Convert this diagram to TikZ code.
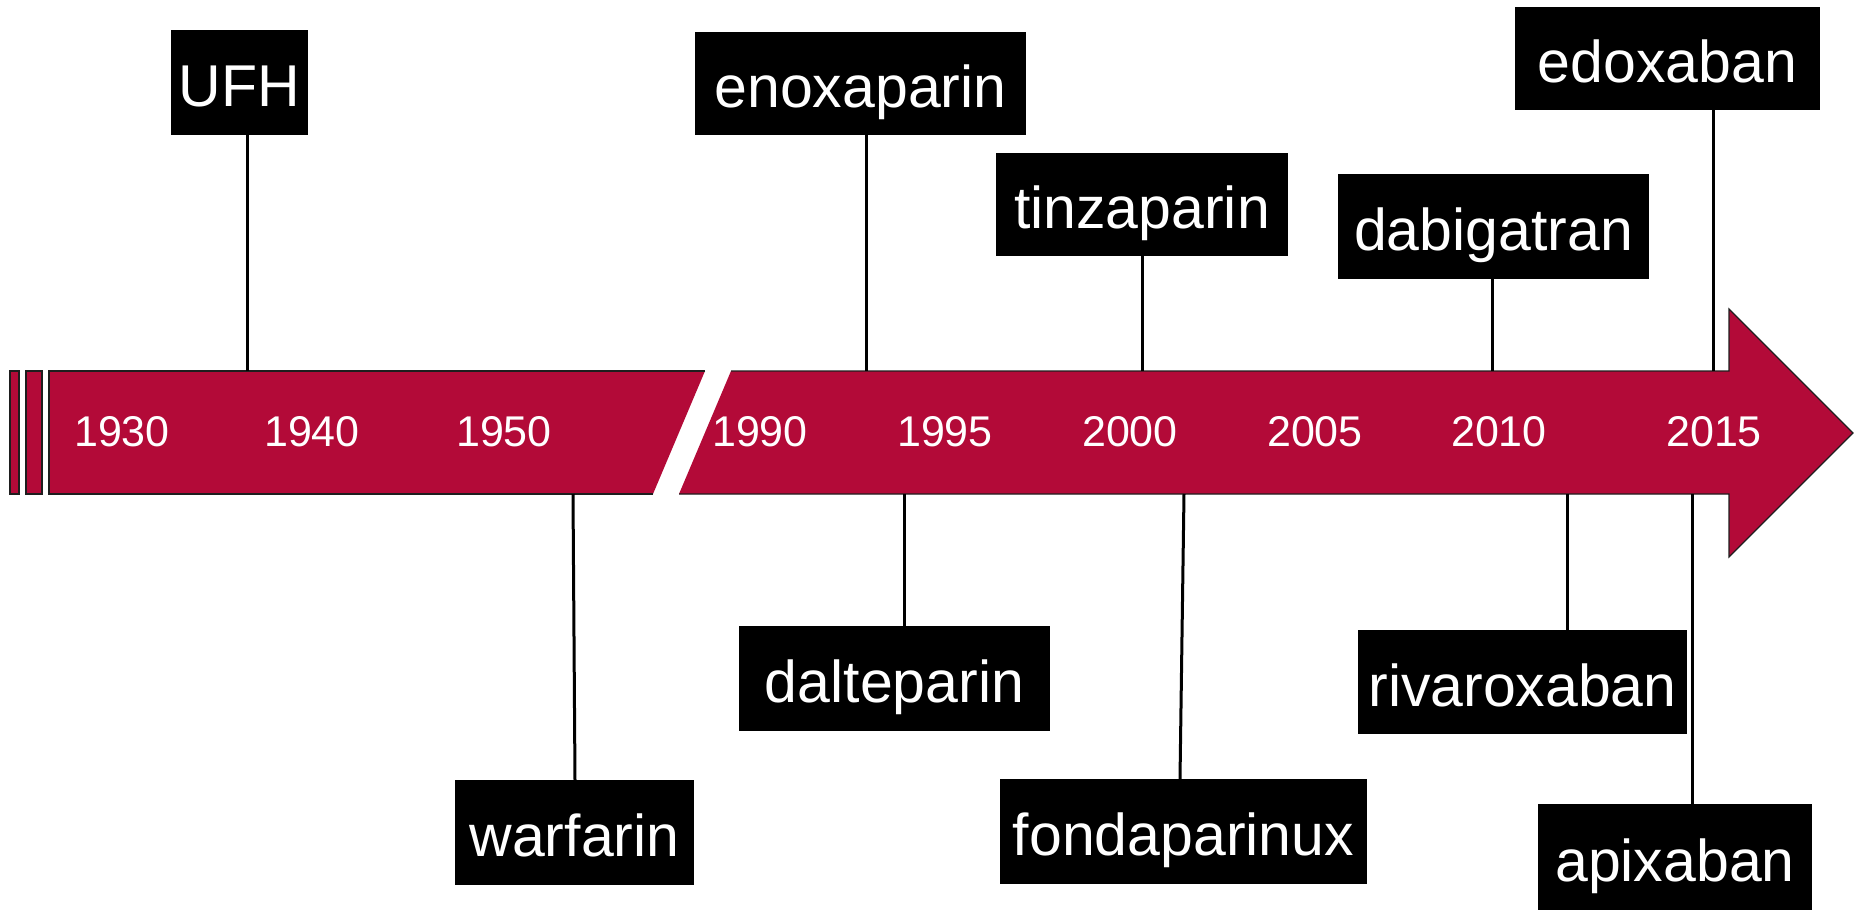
\documentclass[tikz,border=0pt]{standalone}
\usepackage{fontspec}
\setmainfont{Liberation Sans}
\definecolor{barred}{RGB}{179,10,56}
\definecolor{edge}{RGB}{30,30,30}
\tikzset{
  drug/.style={fill=black, text=white, inner sep=0pt,
    font=\fontsize{29.5}{34}\selectfont, text height=24pt, text depth=0pt},
  yearlbl/.style={text=white, inner sep=0pt, font=\fontsize{21.5}{25}\selectfont},
  stem/.style={line width=1.5pt, black},
  rim/.style={line width=0.6pt, edge}
}
\begin{document}
\begin{tikzpicture}[x=0.5pt, y=-0.5pt]
\useasboundingbox (0,0) rectangle (1860,910);

% timeline bars
\fill[barred] (10,371) rectangle (19,494);
\fill[barred] (26,371) rectangle (42,494);
\draw[rim] (10,371) rectangle (19,494);
\draw[rim] (26,371) rectangle (42,494);
\fill[barred] (49,371) -- (705,371) -- (653,494) -- (49,494) -- cycle;
\draw[rim] (705,371) -- (49,371) -- (49,494) -- (653,494);
\fill[barred] (731,371) -- (1729,371) -- (1729,309) -- (1853,433) -- (1729,557) -- (1729,494) -- (679,494) -- cycle;
\draw[rim] (731,371) -- (1729,371) -- (1729,309) -- (1853,433) -- (1729,557) -- (1729,494) -- (679,494);

% years
\node[yearlbl] (y1930) at (122,432) {1930};
\node[yearlbl] (y1940) at (312,432) {1940};
\node[yearlbl] (y1950) at (504,432) {1950};
\node[yearlbl] (y1990) at (760,432) {1990};
\node[yearlbl] (y1995) at (945,432) {1995};
\node[yearlbl] (y2000) at (1130,432) {2000};
\node[yearlbl] (y2005) at (1315,432) {2005};
\node[yearlbl] (y2010) at (1499,432) {2010};
\node[yearlbl] (y2015) at (1714,432) {2015};

% drug boxes above the bar
\node[drug, minimum width=68.5pt, minimum height=52.5pt] (ufh) at (239.5,82) {UFH};
\node[drug, minimum width=165.5pt, minimum height=51.5pt] (enox) at (860.5,83.5) {enoxaparin};
\node[drug, minimum width=146pt, minimum height=51.5pt] (tinz) at (1142,204.5) {tinzaparin};
\node[drug, minimum width=155.5pt, minimum height=52.5pt] (dabi) at (1493.5,226.5) {dabigatran};
\node[drug, minimum width=152.5pt, minimum height=51.5pt] (edox) at (1667.5,58.5) {edoxaban};

% drug boxes below the bar
\node[drug, minimum width=119.5pt, minimum height=52.5pt] (warf) at (574.5,832.5) {warfarin};
\node[drug, minimum width=155.5pt, minimum height=52.5pt] (dalt) at (894.5,678.5) {dalteparin};
\node[drug, minimum width=183.5pt, minimum height=52.5pt] (fond) at (1183.5,831.5) {fondaparinux};
\node[drug, minimum width=164.5pt, minimum height=52pt] (riva) at (1522.5,682) {rivaroxaban};
\node[drug, minimum width=137pt, minimum height=53pt] (apix) at (1675,857) {apixaban};

% anchor points on the bar
\coordinate (t-ufh) at (247,371);
\coordinate (t-enox) at (866,371);
\coordinate (t-tinz) at (1142,371);
\coordinate (t-dabi) at (1492,371);
\coordinate (t-edox) at (1713,371);
\coordinate (b-warf) at (573,494);
\coordinate (e-warf) at (575,780);
\coordinate (b-dalt) at (904,494);
\coordinate (b-fond) at (1184,494);
\coordinate (e-fond) at (1180,779);
\coordinate (b-riva) at (1567,494);
\coordinate (b-apix) at (1692,494);

% stems
\draw[stem] (t-ufh) -- (t-ufh |- ufh.south);
\draw[stem] (t-enox) -- (t-enox |- enox.south);
\draw[stem] (t-tinz) -- (t-tinz |- tinz.south);
\draw[stem] (t-dabi) -- (t-dabi |- dabi.south);
\draw[stem] (t-edox) -- (t-edox |- edox.south);
\draw[stem] (b-warf) -- (e-warf);
\draw[stem] (b-dalt) -- (b-dalt |- dalt.north);
\draw[stem] (b-fond) -- (e-fond);
\draw[stem] (b-riva) -- (b-riva |- riva.north);
\draw[stem] (b-apix) -- (b-apix |- apix.north);
\end{tikzpicture}
\end{document}
